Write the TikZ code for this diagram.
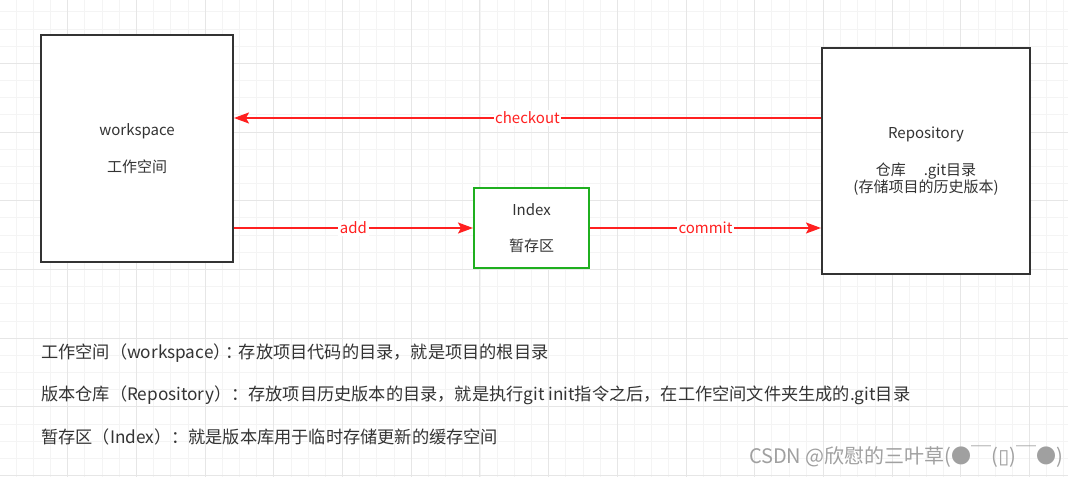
\documentclass[tikz,border=0pt]{standalone}
\usepackage{fontspec}
\setmainfont{Noto Sans CJK SC}
\newfontfamily\djv{DejaVu Sans}
\usetikzlibrary{arrows.meta,calc}
\definecolor{boxline}{HTML}{333333}
\definecolor{txt}{HTML}{333333}
\definecolor{arrred}{HTML}{FF2020}
\definecolor{idxgreen}{HTML}{1FAF1F}
\definecolor{gridminor}{HTML}{F4F4F4}
\definecolor{gridmajor}{HTML}{E6E6E6}
\definecolor{wm}{HTML}{A0A0A0}
\tikzset{
  box/.style={draw=boxline, line width=2pt, fill=white, text=txt, align=center,
    font=\fontsize{15}{18}\selectfont, inner sep=0pt},
  greenbox/.style={box, draw=idxgreen},
  arr/.style={draw=arrred, line width=1.8pt, -{Stealth[length=15pt,width=11pt,inset=3pt]}},
  arrlabel/.style={fill=white, text=arrred, font=\fontsize{15}{16}\selectfont, inner sep=1.5pt},
  note/.style={anchor=west, text=txt, font=\fontsize{17.2}{19}\selectfont, inner sep=0pt},
  minorline/.style={draw=gridminor, line width=0.8pt},
  majorline/.style={draw=gridmajor, line width=1pt}
}
\begin{document}
\begin{tikzpicture}[x=1pt,y=-1pt]
\useasboundingbox (0,0) rectangle (1068,477);
\fill[white] (0,0) rectangle (1068,477);
% grid
\foreach \i in {0,...,63} {
  \draw[minorline] ({-1+17.175*\i},0) -- ({-1+17.175*\i},477);
}
\foreach \j in {0,...,28} {
  \draw[minorline] (0,{-5.4+17.175*\j}) -- (1068,{-5.4+17.175*\j});
}
\foreach \i in {0,...,16} {
  \draw[majorline] ({-1+68.7*\i},0) -- ({-1+68.7*\i},477);
}
\foreach \j in {0,...,7} {
  \draw[majorline] (0,{-5.4+68.7*\j}) -- (1068,{-5.4+68.7*\j});
}
% boxes
\node[box, minimum width=192pt, minimum height=227pt] (ws) at (137,148.5)
  {workspace\\[19pt]工作空间};
\node[box, minimum width=208pt, minimum height=226pt] (repo) at (926,161)
  {Repository\\[19pt]仓库\hspace{18pt}.git目录\\[-1pt](存储项目的历史版本)};
\node[greenbox, minimum width=115pt, minimum height=80pt] (idx) at (531.5,228)
  {Index\\[18pt]暂存区};
% arrows
\draw[arr] ([yshift=43pt]repo.west) -- node[arrlabel] (lco) {checkout} ([yshift=30.5pt]ws.east);
\draw[arr] (idx.west -| ws.east) -- node[arrlabel] (ladd) {add} (idx.west);
\draw[arr] (idx.east) -- node[arrlabel] (lcm) {commit} (idx.east -| repo.west);
% notes
\node[note] (n1) at (41,353) {工作空间（workspace）\hspace{-5pt}：\hspace{-4pt}存放项目代码的目录，就是项目的根目录};
\node[note] (n2) at (41,395) {版本仓库（Repository）：存放项目历史版本的目录，就是执行git init指令之后，在工作空间文件夹生成的.git目录};
\node[note] (n3) at (41,437) {暂存区（Index）：就是版本库用于临时存储更新的缓存空间};
% watermark
\node[anchor=east, text=wm, font=\fontsize{20}{22}\selectfont, inner sep=0pt] (wmk) at (1063,457)
  {CSDN @欣慰的三叶草(●￣({\djv ▯})￣●)};
\end{tikzpicture}
\end{document}
